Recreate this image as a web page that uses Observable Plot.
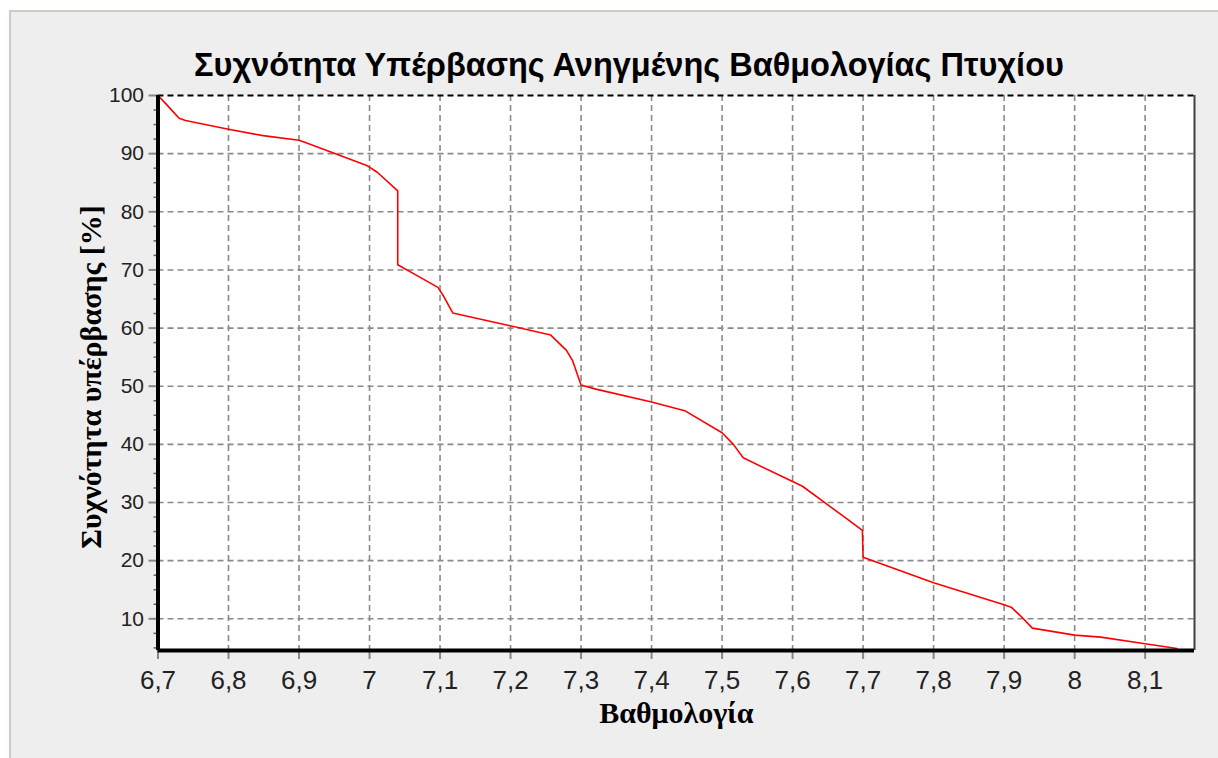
<!DOCTYPE html>
<html><head><meta charset="utf-8">
<script src="https://cdn.jsdelivr.net/npm/d3@7"></script>
<script src="https://cdn.jsdelivr.net/npm/@observablehq/plot@0.6"></script>
<style>
body{margin:0;background:#ffffff;width:1218px;height:758px;overflow:hidden;position:relative;font-family:"Liberation Sans",Arial,sans-serif}
#panel{position:absolute;left:9px;top:10px;width:1240px;height:780px;background:#eeeeee;border-left:2px solid #cfcbc3;border-top:2px solid #cfcbc3}
#title{position:absolute;left:0;width:1258px;top:47px;text-align:center;font:bold 32.5px "Liberation Sans",Arial,sans-serif;color:#000;white-space:nowrap}
#chart{position:absolute;left:0;top:80px}
</style></head><body>
<div id="panel"></div>
<div id="title">Συχνότητα Υπέρβασης Ανηγμένης Βαθμολογίας Πτυχίου</div>
<div id="chart"></div>
<script>
const grade = [6.700, 6.711, 6.720, 6.730, 6.739, 6.800, 6.849, 6.900, 6.909, 6.947, 6.997, 7.011, 7.040, 7.040, 7.065, 7.097, 7.104, 7.118, 7.196, 7.257, 7.279, 7.288, 7.300, 7.321, 7.400, 7.447, 7.500, 7.516, 7.530, 7.600, 7.614, 7.650, 7.679, 7.699, 7.700, 7.800, 7.900, 7.910, 7.925, 7.940, 8.000, 8.037, 8.100, 8.145];
const exceed = [100, 98.6, 97.4, 96.1, 95.7, 94.2, 93.1, 92.3, 91.9, 90.2, 87.9, 86.8, 83.6, 70.9, 69.2, 67.0, 65.7, 62.6, 60.5, 58.8, 56.2, 54.4, 50.2, 49.5, 47.3, 45.8, 42.0, 40.0, 37.7, 33.6, 32.8, 29.6, 27.0, 25.2, 20.6, 16.2, 12.4, 12.0, 10.3, 8.4, 7.2, 6.85, 5.7, 4.9];

const xTicks = [6.7, 6.8, 6.9, 7.0, 7.1, 7.2, 7.3, 7.4, 7.5, 7.6, 7.7, 7.8, 7.9, 8.0, 8.1];
const xTickLabels = ["6,7", "6,8", "6,9", "7", "7,1", "7,2", "7,3", "7,4", "7,5", "7,6", "7,7", "7,8", "7,9", "8", "8,1"];
const yTicks = [10, 20, 30, 40, 50, 60, 70, 80, 90, 100];
const yTickLabels = ["10", "20", "30", "40", "50", "60", "70", "80", "90", "100"];
const yMinorTicks = [5, 7.5, 12.5, 15, 17.5, 22.5, 25, 27.5, 32.5, 35, 37.5, 42.5, 45, 47.5, 52.5, 55, 57.5, 62.5, 65, 67.5, 72.5, 75, 77.5, 82.5, 85, 87.5, 92.5, 95, 97.5];
const xDomain = [6.7, 8.17];
const yDomain = [4.55, 100];
const xLabel = "Βαθμολογία";
const yLabel = "Συχνότητα υπέρβασης [%]";

const data = grade.map((g, i) => ({grade: g, pct: exceed[i]}));
const xLab = new Map(xTicks.map((t, i) => [t, xTickLabels[i]]));
const yLab = new Map(yTicks.map((t, i) => [t, yTickLabels[i]]));
const gridStyle = {stroke: "#8a8a8a", strokeWidth: 1.6, strokeDasharray: "6,4"};

const chart = Plot.plot({
  width: 1218,
  height: 678,
  marginLeft: 157.5,
  marginRight: 24,
  marginTop: 15,
  marginBottom: 108,
  style: {background: "transparent", fontFamily: "'Liberation Sans', Arial, sans-serif", overflow: "visible"},
  x: {domain: xDomain, axis: null},
  y: {domain: yDomain, axis: null},
  marks: [
    Plot.frame({fill: "#ffffff", stroke: null}),
    Plot.ruleX(xTicks.slice(1), gridStyle),
    Plot.ruleY(yTicks.slice(0, -1), gridStyle),
    Plot.ruleY([100], {stroke: "#000", strokeWidth: 2, strokeDasharray: "6,4"}),
    Plot.ruleX([xDomain[1]], {stroke: "#404040", strokeWidth: 2}),
    Plot.axisX({ticks: xTicks, tickFormat: d => xLab.get(d), tickSize: 9, tickPadding: 11, fontSize: 26, stroke: "#888", strokeWidth: 2, fill: "#222", label: null}),
    Plot.axisY({ticks: yTicks, tickFormat: d => yLab.get(d), tickSize: 9, tickPadding: 5, fontSize: 21, stroke: "#888", strokeWidth: 2, fill: "#222", label: null}),
    Plot.axisY({ticks: yMinorTicks, tickFormat: () => "", tickSize: 4, stroke: "#666", strokeWidth: 1.5, label: null}),
    Plot.line(data, {x: "grade", y: "pct", stroke: "#ff0000", strokeWidth: 1.6}),
    Plot.ruleX([xDomain[0]], {stroke: "#000", strokeWidth: 4}),
    Plot.ruleY([yDomain[0]], {stroke: "#000", strokeWidth: 4}),
    Plot.text([xLabel], {frameAnchor: "bottom", dy: 72, textAnchor: "middle", lineAnchor: "bottom", fontSize: 30, fontWeight: "bold", fontFamily: "'Liberation Serif', 'Times New Roman', serif", fill: "#000"}),
    Plot.text([yLabel], {frameAnchor: "left", dx: -67, dy: 4, rotate: -90, textAnchor: "middle", lineAnchor: "middle", fontSize: 30, fontWeight: "bold", fontFamily: "'Liberation Serif', 'Times New Roman', serif", fill: "#000"})
  ]
});
document.getElementById("chart").appendChild(chart);
</script>
</body></html>
